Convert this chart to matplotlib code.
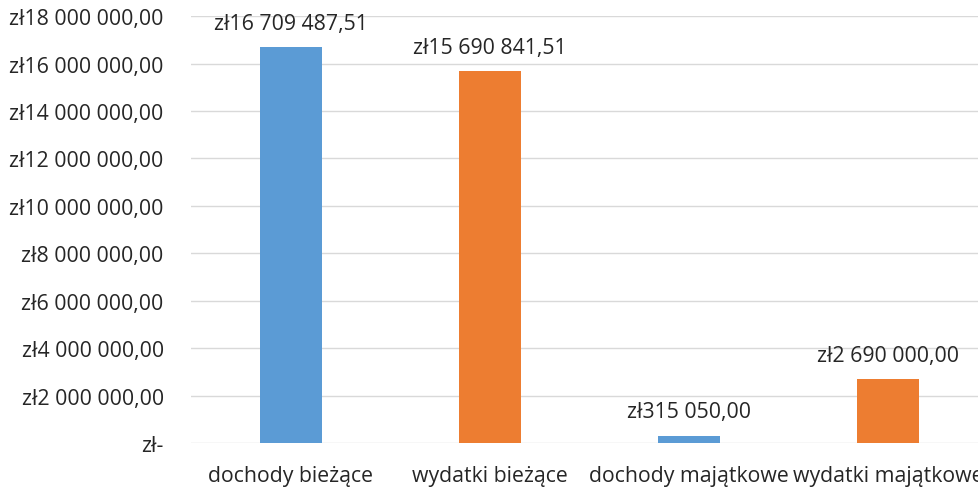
import matplotlib.pyplot as plt
from matplotlib.ticker import FuncFormatter, MultipleLocator

kategorie = ['dochody bieżące', 'wydatki bieżące', 'dochody majątkowe', 'wydatki majątkowe']
wartosci = [16709487.51, 15690841.51, 315050.00, 2690000.00]
kolory = ['#5B9BD5', '#ED7D31', '#5B9BD5', '#ED7D31']

plt.rcParams['font.family'] = ['Open Sans', 'DejaVu Sans']


def zl(v, pos=None):
    if abs(v) < 0.005:
        return 'zł-'
    s = f'{v:,.2f}'.replace(',', ' ').replace('.', ',')
    return 'zł' + s


fig = plt.figure(figsize=(9.79, 4.89), dpi=100)
ax = fig.add_axes([0.1956, 0.092, 0.813, 0.873])

x = range(len(kategorie))
ax.bar(x, wartosci, width=0.31, color=kolory, zorder=3)

for i, v in zip(x, wartosci):
    ax.annotate(zl(v), (i, v), xytext=(0, 9.5), textcoords='offset points',
                ha='center', va='bottom', fontsize=15.3, color='#262626')

ax.set_xlim(-0.5, len(kategorie) - 0.5)
ax.set_ylim(0, 18000000)
ax.yaxis.set_major_locator(MultipleLocator(2000000))
ax.yaxis.set_major_formatter(FuncFormatter(zl))
ax.set_xticks(list(x))
ax.set_xticklabels(kategorie)

ax.grid(axis='y', color='#D9D9D9', linewidth=1, zorder=0)
for s in ['top', 'right', 'left', 'bottom']:
    ax.spines[s].set_visible(False)
ax.tick_params(axis='both', length=0, labelsize=15.3, labelcolor='#262626')
ax.tick_params(axis='y', pad=20)
ax.tick_params(axis='x', pad=16)

fig.savefig('out.png', dpi=100)
